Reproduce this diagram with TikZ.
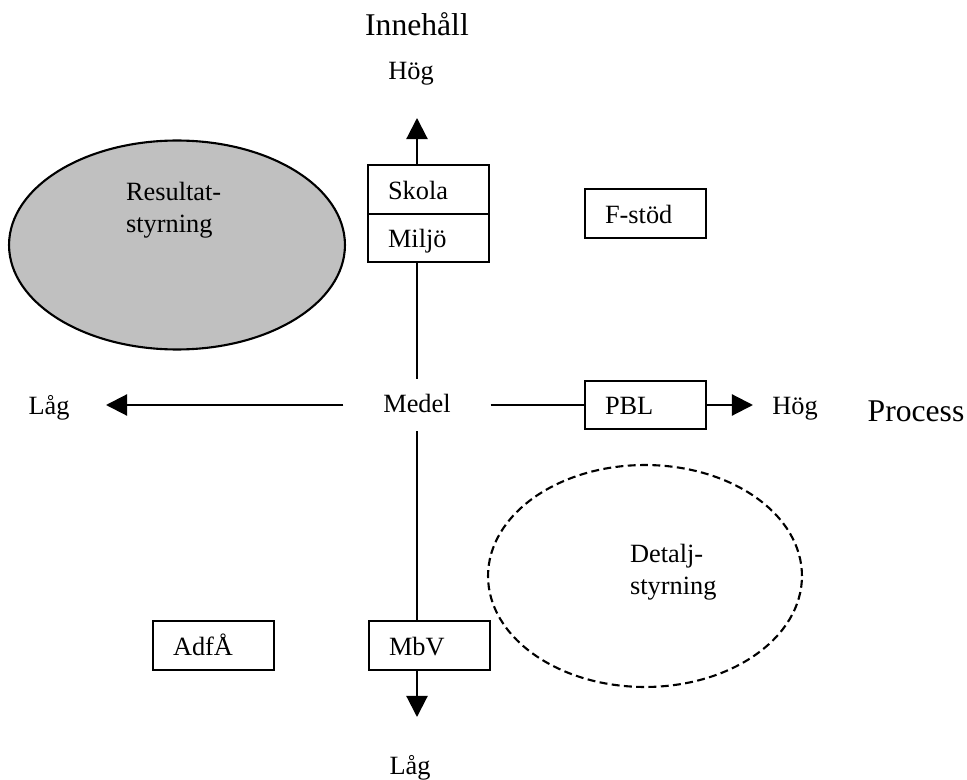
\documentclass[tikz,border=0pt]{standalone}
\usepackage{fontspec}
\setmainfont{Liberation Serif}
\usetikzlibrary{arrows.meta,shapes.geometric}
\definecolor{ovalgray}{RGB}{192,192,192}
\tikzset{
  axisarrow/.style={-{Triangle[length=12pt,width=12pt]}},
  catbox/.style={draw, minimum width=2.42cm, minimum height=0.97cm,
    text width=1.62cm, inner xsep=0.4cm, inner ysep=0pt, align=left,
    text height=1.1em, text depth=0pt},
  lbl/.style={anchor=base, inner sep=0pt},
  biglbl/.style={lbl, font=\fontsize{18}{21}\selectfont},
  oval/.style={draw, ellipse, inner sep=0pt}
}
\begin{document}
\begin{tikzpicture}[x=0.02cm, y=-0.02cm, line width=1.2pt,
    font=\fontsize{15}{18}\selectfont]
  \useasboundingbox (0,0) rectangle (967,780);

  % ovals
  \node[oval, fill=ovalgray, minimum width=6.72cm, minimum height=4.18cm] (resultat) at (177,245) {};
  \node[anchor=west, align=left, inner sep=0pt] (resultattxt) at (125,210) {Resultat-\\styrning};
  \node[oval, dashed, dash pattern=on 4.5pt off 2.5pt, minimum width=6.28cm, minimum height=4.44cm] (detalj) at (645,576) {};
  \node[anchor=west, align=left, inner sep=0pt] (detaljtxt) at (629,572) {Detalj-\\styrning};

  % centre and axis ends
  \node[minimum width=2.9cm, minimum height=1cm, inner sep=0pt,
    text height=0.85em, text depth=0pt] (medel) at (417,405) {Medel};
  \coordinate (top) at (417,118);
  \coordinate (bottom) at (417,717);
  \coordinate (left) at (106,405);
  \coordinate (right) at (753,405);

  % boxes
  \node[catbox] (skola) at (428.5,189.5) {Skola};
  \node[catbox] (miljo) at (428.5,238) {Miljö};
  \node[catbox] (fstod) at (645.5,213.5) {F-stöd};
  \node[catbox] (pbl) at (645.5,405) {PBL};
  \node[catbox] (adfa) at (213.5,645.5) {AdfÅ};
  \node[catbox] (mbv) at (429.5,645.5) {MbV};

  % axes
  \draw[axisarrow] (skola.north -| medel) -- (top);
  \draw (miljo.south -| medel) -- (medel.north);
  \draw (medel.south) -- (mbv.north -| medel);
  \draw[axisarrow] (mbv.south -| medel) -- (bottom);
  \draw[axisarrow] (medel.west) -- (left);
  \draw (medel.east) -- (pbl.west);
  \draw[axisarrow] (pbl.east) -- (right);

  % axis labels
  \node[biglbl] (innehall) at (417,36) {Innehåll};
  \node[lbl] (hogtop) at (411,80) {Hög};
  \node[lbl] (lagbottom) at (410,774) {Låg};
  \node[lbl] (lagleft) at (49,415) {Låg};
  \node[lbl] (hogright) at (795,415) {Hög};
  \node[biglbl] (process) at (916,421) {Process};
\end{tikzpicture}
\end{document}
